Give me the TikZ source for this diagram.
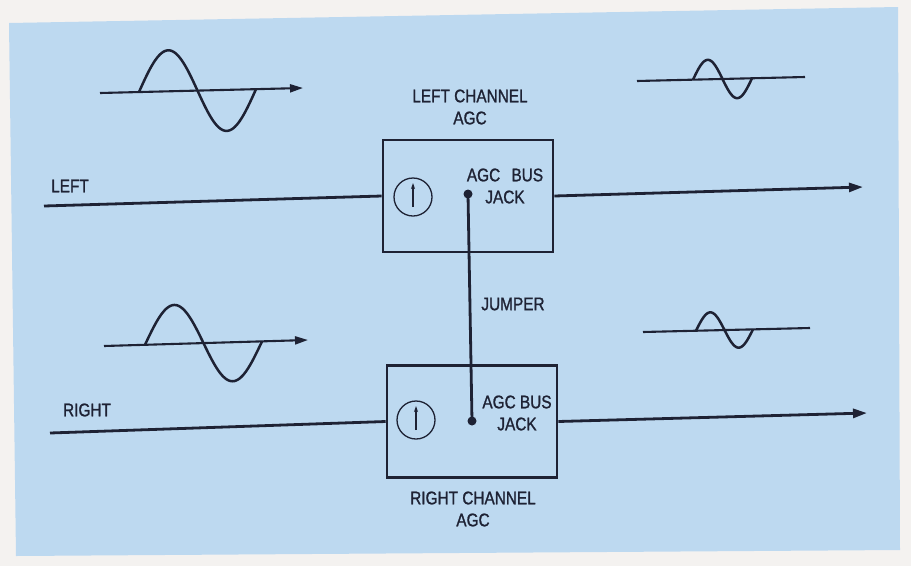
\documentclass[tikz,border=0pt]{standalone}
\usepackage{fontspec}
\setmainfont{Liberation Sans}[FakeStretch=0.84, FakeBold=1.2]
\usetikzlibrary{arrows.meta}
\definecolor{bg}{RGB}{189,217,240}
\definecolor{ink}{RGB}{30,34,52}
\definecolor{paper}{RGB}{244,242,240}
\begin{document}
\begin{tikzpicture}[x=1pt,y=-1pt,
  lbl/.style={font=\fontsize{18.3}{22}\selectfont, text=ink, inner sep=0pt, align=center},
  agcbox/.style={draw=ink, line width=2.6pt, minimum width=170pt, minimum height=112pt, inner sep=0pt},
  knob/.style={draw=ink, circle, line width=1.3pt, minimum size=38pt, inner sep=0pt},
  jackdot/.style={circle, fill=ink, minimum size=9pt, inner sep=0pt},
  wire/.style={draw=ink, line width=2.8pt},
  sig/.style={draw=ink, line width=2.8pt, -{Triangle[length=14pt,width=9pt]}},
  waxis/.style={draw=ink, line width=2.1pt},
  waxisarrow/.style={draw=ink, line width=2.1pt, -{Triangle[length=13pt,width=8pt]}},
  wave/.style={draw=ink, line width=2.5pt, line join=round},
  knobarrow/.style={draw=ink, line width=2pt, -{Stealth[length=6pt,width=4pt]}}]
\useasboundingbox (0,0) rectangle (911,566);
\fill[paper] (0,0) rectangle (911,566);
\fill[bg] (9,23) -- (898,7) -- (900,550) -- (16,556) -- cycle;

% boxes
\node[agcbox] (lbox) at (468,196) {};
\node[agcbox] (rbox) at (472,421.5) {};

% knobs
\node[knob] (lknob) at (413,197) {};
\draw[knobarrow] (lknob.center) ++(0,10) -- ++(0,-24);
\node[knob] (rknob) at (416,420) {};
\draw[knobarrow] (rknob.center) ++(0,10) -- ++(0,-24);

% jacks and jumper
\node[jackdot] (ljack) at (468,194) {};
\node[jackdot] (rjack) at (472,421) {};
\draw[wire] (ljack.center) -- (rjack.center);

% texts
\node[lbl] (ltitle) at (470,107) {LEFT CHANNEL\\AGC};
\node[lbl] (rtitle) at (473,509) {RIGHT CHANNEL\\AGC};
\node[lbl] (ljacklbl) at (505,186) {AGC\hspace{7pt} BUS\\JACK};
\node[lbl] (rjacklbl) at (517,413) {AGC BUS\\JACK};
\node[lbl] (jumper) at (513,304) {JUMPER};
\node[lbl] (leftlbl) at (70,186) {LEFT};
\node[lbl] (rightlbl) at (87,410) {RIGHT};

% signal lines
\coordinate (lin) at (44,206);
\coordinate (lout) at (863,187);
\coordinate (rin) at (50,433);
\coordinate (rout) at (867,413);
\draw[wire] (lin) -- (lbox.west);
\draw[sig] (lbox.east) -- (lout);
\draw[wire] (rin) -- (rbox.west);
\draw[sig] (rbox.east) -- (rout);

% waveforms
\coordinate (w1a) at (100,93);
\coordinate (w1b) at (303,88);
\draw[waxisarrow] (w1a) -- (w1b);
\draw[wave] plot[domain=0:360,samples=73] ({139+\x/360*117}, {92-\x/360*2.8-41*sin(\x)});

\coordinate (w2a) at (104,346);
\coordinate (w2b) at (308,340);
\draw[waxisarrow] (w2a) -- (w2b);
\draw[wave] plot[domain=0:360,samples=73] ({145+\x/360*117}, {344.8-\x/360*3.4-39*sin(\x)});

\coordinate (w3a) at (637,81);
\coordinate (w3b) at (805,77);
\draw[waxis] (w3a) -- (w3b);
\draw[wave] plot[domain=0:360,samples=61] ({693+\x/360*59}, {79.7-\x/360*1.4-19.5*sin(\x)});

\coordinate (w4a) at (643,332);
\coordinate (w4b) at (810,328);
\draw[waxis] (w4a) -- (w4b);
\draw[wave] plot[domain=0:360,samples=61] ({696+\x/360*57}, {330.7-\x/360*1.4-18*sin(\x)});
\end{tikzpicture}
\end{document}
